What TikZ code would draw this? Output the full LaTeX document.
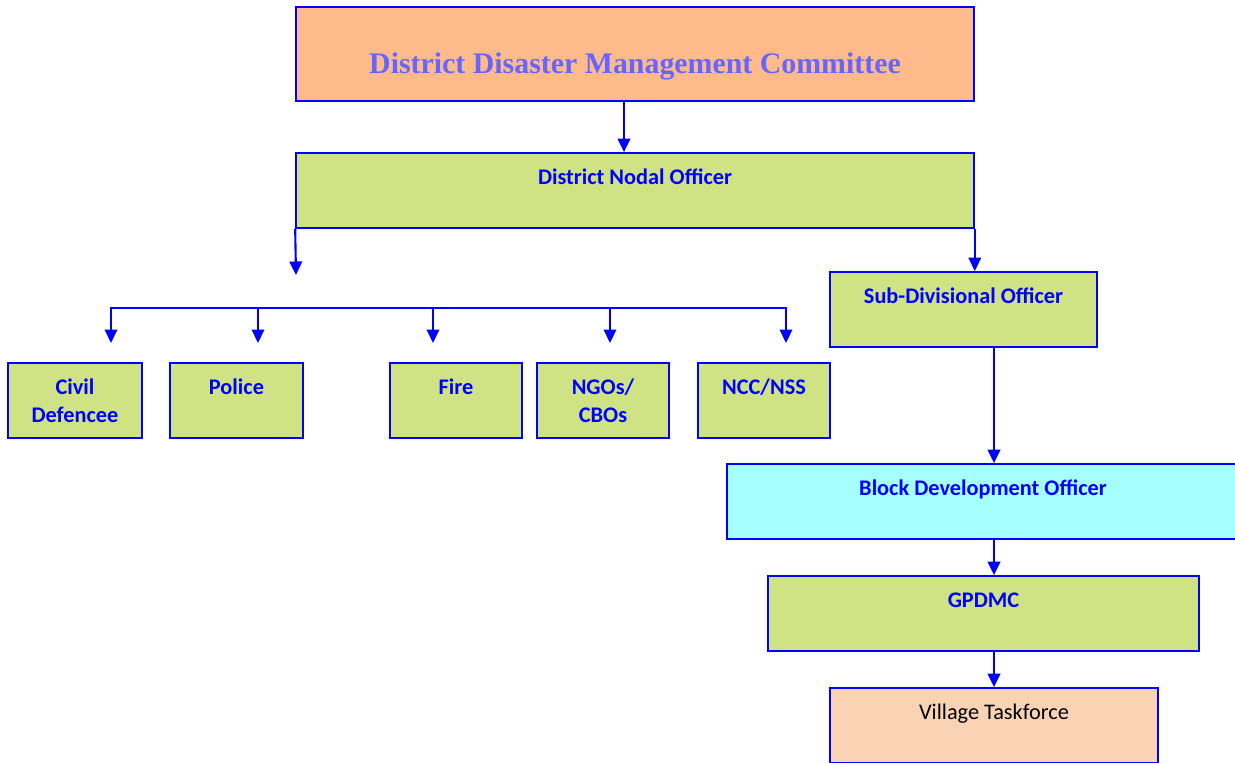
\documentclass[tikz,border=0pt]{standalone}
\usepackage{fontspec}
\setmainfont{Carlito}
\newfontfamily\timesfont{Liberation Serif}
\usetikzlibrary{arrows.meta}
\definecolor{frameblue}{RGB}{0,0,255}
\definecolor{ddmcorange}{RGB}{255,186,140}
\definecolor{boxgreen}{RGB}{207,227,133}
\definecolor{boxcyan}{RGB}{165,255,255}
\definecolor{boxpeach}{RGB}{250,211,180}
\definecolor{titleblue}{RGB}{102,102,255}
\tikzset{
  unitbox/.style={draw=frameblue, line width=1pt, inner sep=0pt,
    text height=0.62cm, text depth=0.88cm, align=center, text=frameblue,
    font=\fontsize{12.7}{15.9}\selectfont\bfseries},
  greenbox/.style={unitbox, fill=boxgreen},
  twoline/.style={text height=1.18cm, text depth=0.32cm},
  link/.style={draw=frameblue, line width=1.2pt, -{Triangle[length=0.27cm,width=0.25cm]}},
  wire/.style={draw=frameblue, line width=1.2pt, line cap=rect},
}
\begin{document}
\begin{tikzpicture}[x=0.02cm, y=-0.02cm]
    \useasboundingbox (0,0) rectangle (1235,762);
    \clip (0,0) rectangle (1235,762);
    % top of the chart
    \node[unitbox, fill=ddmcorange, minimum width=13.56cm, text height=1.32cm, text depth=0.56cm,
      text=titleblue, font=\timesfont\fontsize{17}{20}\selectfont\bfseries] (ddmc) at (635,54) {District Disaster Management Committee};
    \node[greenbox, minimum width=13.56cm] (dno) at (635,190.5) {District Nodal Officer};
    \node[greenbox, minimum width=5.34cm] (sdo) at (963.5,309.5) {Sub-Divisional Officer};
    % supporting agencies
    \node[greenbox, twoline, minimum width=2.68cm] (civil) at (75,400.5) {Civil\\Defencee};
    \node[greenbox, minimum width=2.66cm] (police) at (236.5,400.5) {Police};
    \node[greenbox, minimum width=2.64cm] (fire) at (456,400.5) {Fire};
    \node[greenbox, twoline, minimum width=2.64cm] (ngo) at (603,400.5) {NGOs/\\CBOs};
    \node[greenbox, minimum width=2.64cm] (ncc) at (764,400.5) {NCC/NSS};
    % block and village level
    \node[unitbox, fill=boxcyan, minimum width=10.24cm] (bdo) at (983,501.5) {Block Development Officer};
    \node[greenbox, minimum width=8.62cm] (gp) at (983.5,613.5) {GPDMC};
    \node[unitbox, fill=boxpeach, minimum width=6.56cm, text=black, font=\fontsize{12.7}{15.9}\selectfont] (vt) at (994,725.5) {Village Taskforce};

    \coordinate (trunk) at (624,0);
    \coordinate (spine) at (994,0);
    \coordinate (drop) at (296,275);
    \foreach \x/\n in {111/1,258/2,433/3,610/4,786/5}
      \coordinate (bus\n) at (\x,308);

    \draw[link] (ddmc.south -| trunk) -- (dno.north -| trunk);
    \draw[link] (dno.south west) -- (drop);
    \draw[link] (dno.south east) -- (dno.south east |- sdo.north);
    \draw[wire] (bus1) -- (bus5);
    \foreach \n in {1,...,5}
      \draw[link] (bus\n) -- ++(0,35);
    \draw[link] (sdo.south -| spine) -- (bdo.north -| spine);
    \draw[link] (bdo.south -| spine) -- (gp.north -| spine);
    \draw[link] (gp.south -| spine) -- (vt.north -| spine);
\end{tikzpicture}
\end{document}
